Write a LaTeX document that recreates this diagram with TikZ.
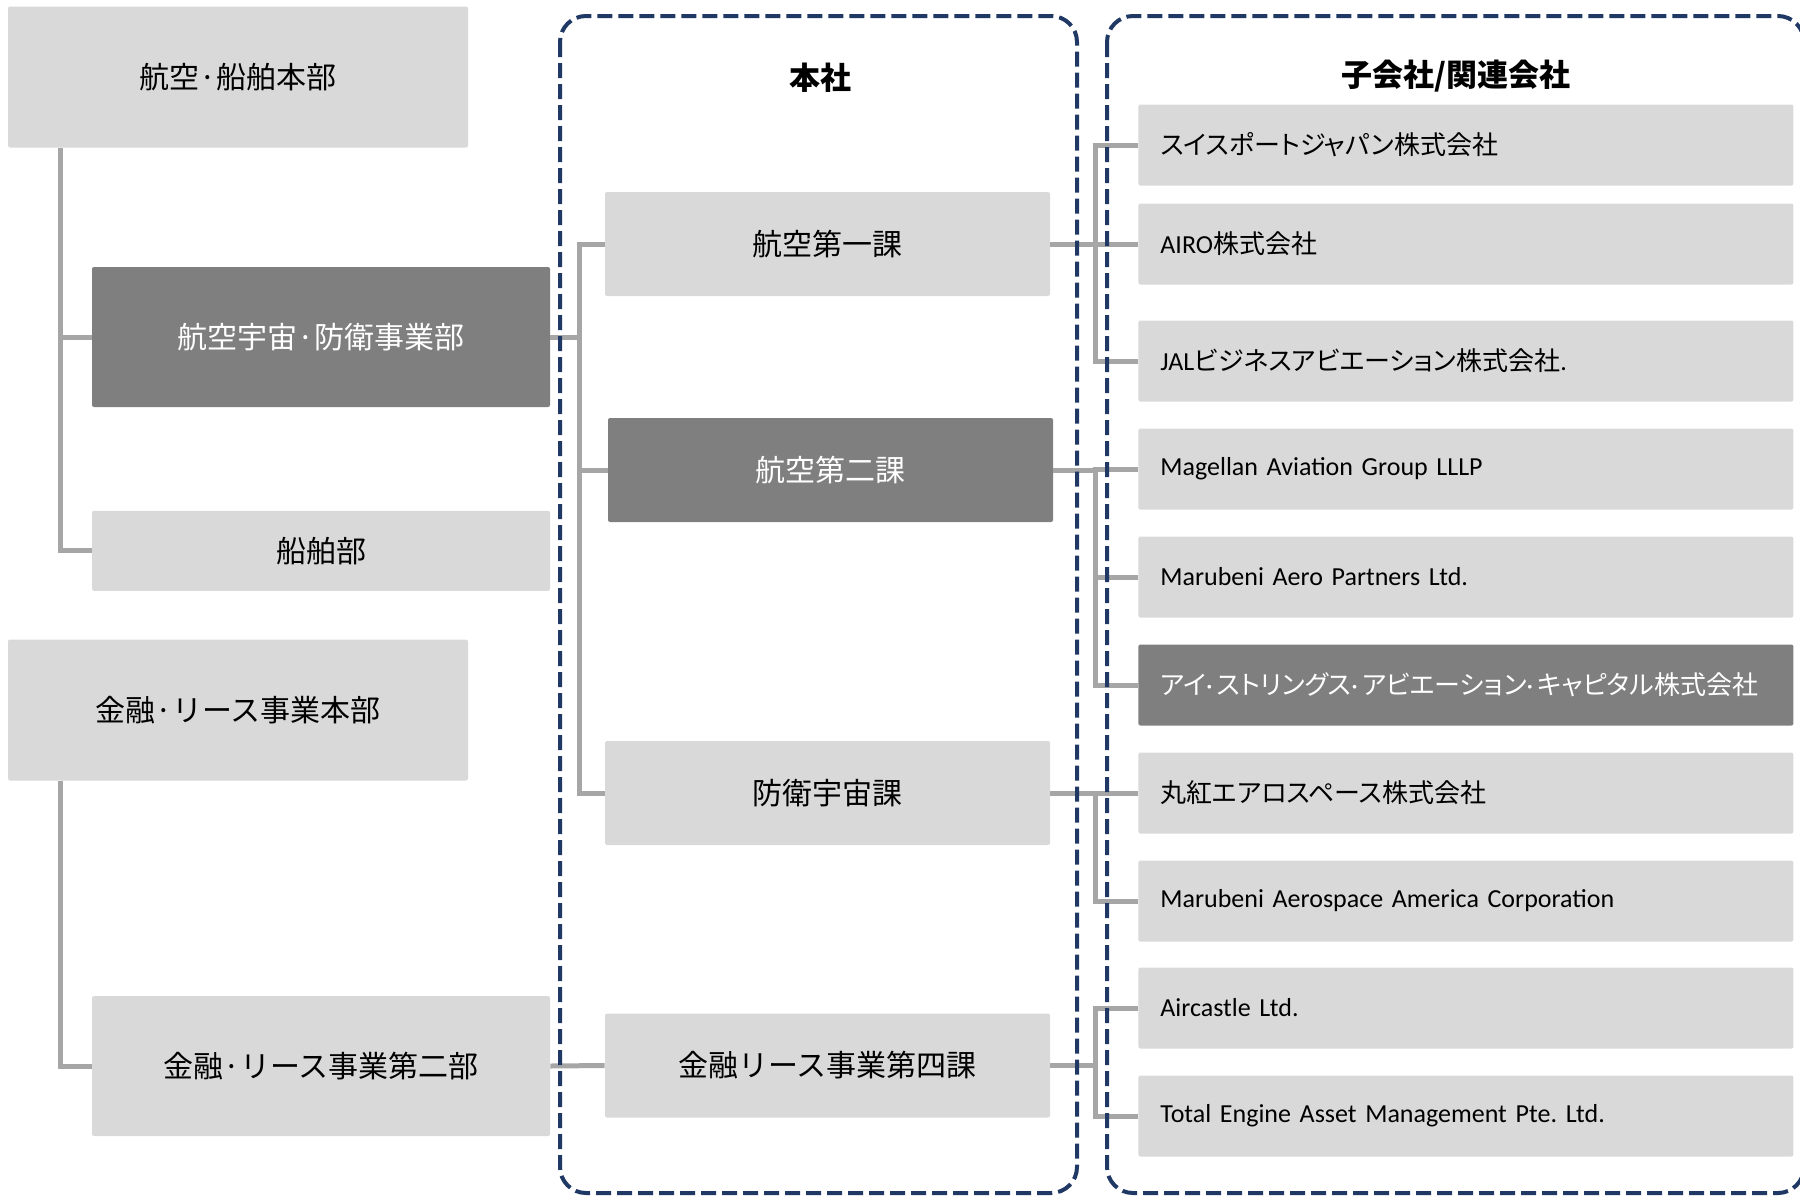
\documentclass[tikz,border=0pt]{standalone}
\usepackage{fontspec}
\setmainfont{Noto Sans CJK JP}
\newfontfamily\subjp{Noto Sans CJK JP}[RawFeature=+palt]
\newfontfamily\lat{Carlito}
\usepackage{xcolor}
\usepackage{tikz}
\usetikzlibrary{positioning}
\frenchspacing

\definecolor{boxlight}{HTML}{D9D9D9}
\definecolor{boxdark}{HTML}{7F7F7F}
\definecolor{linegray}{HTML}{A6A6A6}
\definecolor{navy}{HTML}{1F3864}

\newcommand{\ldot}{{\lat·}\hspace{2pt}}

\begin{document}
\begin{tikzpicture}[
    x=0.5pt, y=-0.5pt,
    every node/.style={font=\fontsize{15pt}{18pt}\selectfont},
    box/.style={fill=boxlight, rounded corners=1pt, inner sep=0pt, minimum width=229pt, minimum height=70pt},
    head/.style={box, minimum width=230pt, minimum height=70.5pt},
    dark/.style={fill=boxdark, text=white},
    unit/.style={box, minimum width=222.5pt, minimum height=52pt},
    sub/.style={box, anchor=west, minimum height=40.5pt, text width=305.5pt, inner xsep=11pt, align=left, font=\subjp\fontsize{13pt}{16pt}\selectfont},
    title/.style={font=\fontsize{15.5pt}{18pt}\selectfont\bfseries},
    conn/.style={draw=linegray, line width=2.5pt},
    frame/.style={draw=navy, line width=2pt, dash pattern=on 7.5pt off 3pt, rounded corners=13pt}
]
\useasboundingbox (0,0) rectangle (1800,1195);

% left column: business units
\node[head] (hq1) at (238,77) {航空·船舶本部};
\node[box, dark] (aero) at (321,337) {航空宇宙·防衛事業部};
\node[box, minimum height=40pt, below=51.5pt of aero] (ship) {船舶部};
\node[head] (hq2) at (238,710) {金融·リース事業本部};
\node[box] (fin2) at (321,1066) {金融·リース事業第二部};

% head office sections
\node[title] (honsha) at (820,78) {本社};
\node[unit] (ka1) at (827.5,244) {航空第一課};
\node[unit, dark] (ka2) at (830.5,470) {航空第二課};
\node[unit] (def) at (827.5,793) {防衛宇宙課};
\node[unit] (fin4) at (827.5,1065.5) {金融リース事業第四課};

% subsidiaries / affiliates
\node[title] (group) at (1456,76) {子会社/関連会社};
\foreach \i/\y/\txt in {
    1/145/スイスポートジャパン株式会社,
    2/244/{\lat AIRO}株式会社,
    3/361/{\lat JAL}ビジネスアビエーション株式会社{\lat .},
    4/469/{\lat Magellan Aviation Group LLLP},
    5/577/{\lat Marubeni Aero Partners Ltd.},
    7/793/丸紅エアロスペース株式会社,
    8/901/{\lat Marubeni Aerospace America Corporation},
    9/1008/{\lat Aircastle Ltd.},
    10/1116/{\lat Total Engine Asset Management Pte. Ltd.}} {
    \node[sub] (s\i) at (1138,\y) {\txt};
}
\node[sub, dark] (s6) at (1138,685) {アイ\ldot ストリングス\ldot アビエーション\ldot キャピタル株式会社};

% connectors
\coordinate (spine1) at (60,0);
\coordinate (spine2) at (579,0);
\coordinate (spine3) at (1095,0);

\draw[conn] (spine1 |- hq1.south) -- (spine1 |- ship.west) -- (ship.west);
\draw[conn] (spine1 |- aero.west) -- (aero.west);
\draw[conn] (spine1 |- hq2.south) -- (spine1 |- fin2.west) -- (fin2.west);

\draw[conn] (aero.east) -- (spine2 |- aero.east);
\draw[conn] (ka1.west) -- (spine2 |- ka1.west) -- (spine2 |- def.west) -- (def.west);
\draw[conn] (spine2 |- ka2.west) -- (ka2.west);
\draw[conn] (fin2.east) -- (fin4.west);

\foreach \src/\a/\b in {ka1/1/3, ka2/4/6, def/7/8, fin4/9/10} {
    \draw[conn] (\src.east) -- (spine3 |- \src.east);
    \draw[conn] (s\a.west) -- (spine3 |- s\a.west) -- (spine3 |- s\b.west) -- (s\b.west);
}
\foreach \i in {2,5}
    \draw[conn] (spine3 |- s\i.west) -- (s\i.west);

% dashed frames
\draw[frame] (560,16) rectangle (1077,1193);
\draw[frame] (1107,16) rectangle (1804,1193);

\end{tikzpicture}
\end{document}
